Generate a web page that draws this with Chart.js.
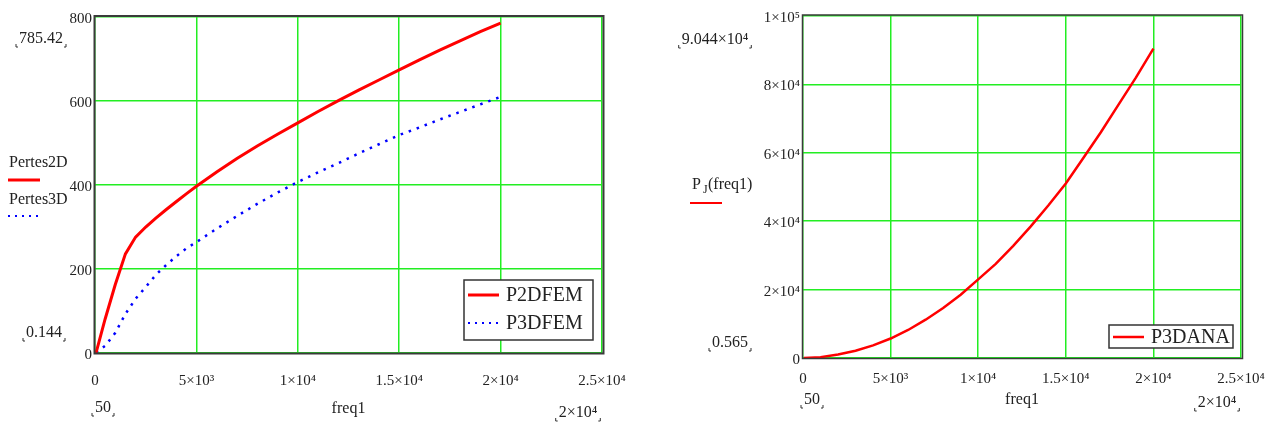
<!DOCTYPE html>
<html>
<head>
<meta charset="utf-8">
<script src="https://cdn.jsdelivr.net/npm/chart.js@4/dist/chart.umd.min.js"></script>
<style>
  body { margin: 0; background: #fff; }
  .panel { position: absolute; top: 0; }
</style>
</head>
<body>
<div class="panel" style="left:0px"><canvas id="femChart" width="640" height="427"></canvas></div>
<div class="panel" style="left:640px"><canvas id="anaChart" width="637" height="427"></canvas></div>
<script>
// FEM losses (left plot)
const freqFem = [50, 500, 1000, 1500, 2000, 2500, 3000, 3500, 4000, 4500, 5000, 6000, 7000, 8000, 9000,
  10000, 11000, 12000, 13000, 14000, 15000, 16000, 17000, 18000, 19000, 20000];
const p2dFem = [0.144, 81, 163, 236, 276, 300, 321, 341, 360, 379, 397, 431, 463, 493, 521,
  548, 575, 601, 626, 650, 674, 698, 721, 743, 765, 785.42];
const p3dFem = [1, 17, 48, 93, 129, 157, 186, 209, 230, 249, 264, 296, 326, 355, 382,
  407, 430, 452, 475, 497, 519, 537, 556, 574, 592, 610];

// analytical losses (right plot)
const freqAna = [50, 1000, 2000, 3000, 4000, 5000, 6000, 7000, 8000, 9000, 10000,
  11000, 12000, 13000, 14000, 15000, 16000, 17000, 18000, 19000, 20000];
const p3dAna = [0.565, 250, 1000, 2100, 3700, 5700, 8200, 11200, 14600, 18500, 23000,
  27500, 32800, 38500, 44600, 51000, 58500, 66000, 74000, 82000, 90440];

const xTicks = [0, 5000, 10000, 15000, 20000, 25000];
const xTickLabels = ['0', '5×10³', '1×10⁴', '1.5×10⁴', '2×10⁴', '2.5×10⁴'];
const yTicksFem = [0, 200, 400, 600, 800];
const yTickLabelsFem = ['0', '200', '400', '600', '800'];
const yTicksAna = [0, 20000, 40000, 60000, 80000, 100000];
const yTickLabelsAna = ['0', '2×10⁴', '4×10⁴', '6×10⁴', '8×10⁴', '1×10⁵'];

const SERIF = '"Liberation Serif", "Times New Roman", serif';
const GRID = '#22ee22';
const INK = '#222';

function toPoints(xs, ys) {
  return xs.map((x, i) => ({ x: x, y: ys[i] }));
}

function makeScales(yMax, yStep, yTicks, yLabels, yWidth, xHeight, xPad) {
  return {
    x: {
      type: 'linear', min: 0, max: 25000,
      afterFit: (s) => { s.height = xHeight; s.paddingLeft = 0; s.paddingRight = 0; },
      grid: { color: GRID, lineWidth: 1.5, drawTicks: false },
      border: { display: false },
      ticks: {
        stepSize: 5000, autoSkip: false, maxRotation: 0, padding: xPad,
        color: INK, font: { family: SERIF, size: 15 },
        callback: (v) => xTickLabels[xTicks.indexOf(v)]
      }
    },
    y: {
      min: 0, max: yMax,
      afterFit: (s) => { s.width = yWidth; s.paddingTop = 0; s.paddingBottom = 0; },
      grid: { color: GRID, lineWidth: 1.5, drawTicks: false },
      border: { display: false },
      ticks: {
        stepSize: yStep, padding: 3, labelOffset: 2,
        color: INK, font: { family: SERIF, size: 15 },
        callback: (v) => yLabels[yTicks.indexOf(v)]
      }
    }
  };
}

// little Mathcad style corner marks under a limit label
function cornerMarks(ctx, x0, x1, y) {
  ctx.save();
  ctx.strokeStyle = '#333';
  ctx.lineWidth = 1;
  ctx.beginPath();
  ctx.moveTo(x0, y - 3); ctx.lineTo(x0, y); ctx.lineTo(x0 + 2, y);
  ctx.moveTo(x1, y - 3); ctx.lineTo(x1, y); ctx.lineTo(x1 - 2, y);
  ctx.stroke();
  ctx.restore();
}

function limitLabel(ctx, text, cx, cy) {
  ctx.font = '16px ' + SERIF;
  ctx.textAlign = 'center';
  ctx.textBaseline = 'middle';
  ctx.fillStyle = INK;
  ctx.fillText(text, cx, cy);
  const w = ctx.measureText(text).width;
  cornerMarks(ctx, cx - w / 2 - 3, cx + w / 2 + 3, cy + 8);
}

function sampleLine(ctx, x0, x1, y, color, width, dash) {
  ctx.save();
  ctx.strokeStyle = color;
  ctx.lineWidth = width;
  ctx.setLineDash(dash || []);
  ctx.beginPath();
  ctx.moveTo(x0, y); ctx.lineTo(x1, y);
  ctx.stroke();
  ctx.restore();
}

function frame(ctx, area, width) {
  ctx.save();
  ctx.strokeStyle = '#3a3a3a';
  ctx.lineWidth = width;
  ctx.strokeRect(area.left - 0.5, area.top - 1, area.right - area.left + 2, area.bottom - area.top + 1.5);
  ctx.restore();
}

function legendBox(ctx, x, y, w, h, rowH, items) {
  ctx.save();
  ctx.fillStyle = '#fff';
  ctx.fillRect(x, y, w, h);
  ctx.strokeStyle = '#333';
  ctx.lineWidth = 1.5;
  ctx.strokeRect(x, y, w, h);
  ctx.font = '20px ' + SERIF;
  ctx.textAlign = 'left';
  ctx.textBaseline = 'middle';
  items.forEach((it, i) => {
    const ly = y + rowH / 2 + 1 + i * rowH;
    sampleLine(ctx, x + 4, x + 35, ly, it.color, it.width, it.dash);
    ctx.fillStyle = INK;
    ctx.fillText(it.label, x + 42, ly + 1);
  });
  ctx.restore();
}

const femDecor = {
  id: 'femDecor',
  afterDraw(chart) {
    const ctx = chart.ctx;
    const a = chart.chartArea;
    frame(ctx, a, 2);
    limitLabel(ctx, '785.42', 41, 39);
    limitLabel(ctx, '0.144', 44, 333);
    limitLabel(ctx, '50', 103, 408);
    limitLabel(ctx, '2×10⁴', 578, 413);
    ctx.font = '16px ' + SERIF;
    ctx.fillStyle = INK;
    ctx.textAlign = 'left';
    ctx.textBaseline = 'middle';
    ctx.fillText('Pertes2D', 9, 163);
    ctx.fillText('Pertes3D', 9, 200);
    sampleLine(ctx, 8, 40, 180, '#ff0000', 3);
    sampleLine(ctx, 8, 40, 216, '#0000ff', 2, [2, 5]);
    ctx.textAlign = 'center';
    ctx.fillText('freq1', (a.left + a.right) / 2, 409);
    legendBox(ctx, 464, 280, 129, 60, 28, [
      { label: 'P2DFEM', color: '#ff0000', width: 3 },
      { label: 'P3DFEM', color: '#0000ff', width: 2, dash: [2, 5] }
    ]);
  }
};

const anaDecor = {
  id: 'anaDecor',
  afterDraw(chart) {
    const ctx = chart.ctx;
    const a = chart.chartArea;
    frame(ctx, a, 1.5);
    limitLabel(ctx, '9.044×10⁴', 75, 40);
    limitLabel(ctx, '0.565', 90, 343);
    limitLabel(ctx, '50', 172, 400);
    limitLabel(ctx, '2×10⁴', 577, 403);
    ctx.fillStyle = INK;
    ctx.textBaseline = 'middle';
    ctx.textAlign = 'left';
    ctx.font = '16px ' + SERIF;
    ctx.fillText('P', 52, 185);
    ctx.font = '12px ' + SERIF;
    ctx.fillText('J', 63, 190);
    ctx.font = '16px ' + SERIF;
    ctx.fillText('(freq1)', 68, 185);
    sampleLine(ctx, 50, 82, 203, '#ff0000', 2);
    ctx.textAlign = 'center';
    ctx.fillText('freq1', (a.left + a.right) / 2, 400);
    legendBox(ctx, 469, 325, 124, 23, 22, [
      { label: 'P3DANA', color: '#ff0000', width: 2.5 }
    ]);
  }
};

new Chart(document.getElementById('femChart'), {
  type: 'line',
  data: {
    datasets: [
      { label: 'P2DFEM', data: toPoints(freqFem, p2dFem), borderColor: '#ff0000', borderWidth: 3,
        pointRadius: 0, tension: 0, fill: false },
      { label: 'P3DFEM', data: toPoints(freqFem, p3dFem), borderColor: '#0000ff', borderWidth: 2.5,
        borderDash: [2.5, 6], pointRadius: 0, tension: 0, fill: false }
    ]
  },
  options: {
    responsive: false,
    animation: false,
    layout: { padding: { left: 0, top: 17, right: 38, bottom: 0 } },
    plugins: { legend: { display: false }, tooltip: { enabled: false } },
    scales: makeScales(800, 200, yTicksFem, yTickLabelsFem, 95, 74, 19)
  },
  plugins: [femDecor]
});

new Chart(document.getElementById('anaChart'), {
  type: 'line',
  data: {
    datasets: [
      { label: 'P3DANA', data: toPoints(freqAna, p3dAna), borderColor: '#ff0000', borderWidth: 2.5,
        pointRadius: 0, tension: 0, fill: false }
    ]
  },
  options: {
    responsive: false,
    animation: false,
    layout: { padding: { left: 0, top: 16, right: 36, bottom: 0 } },
    plugins: { legend: { display: false }, tooltip: { enabled: false } },
    scales: makeScales(100000, 20000, yTicksAna, yTickLabelsAna, 163, 69, 12)
  },
  plugins: [anaDecor]
});
</script>
</body>
</html>
